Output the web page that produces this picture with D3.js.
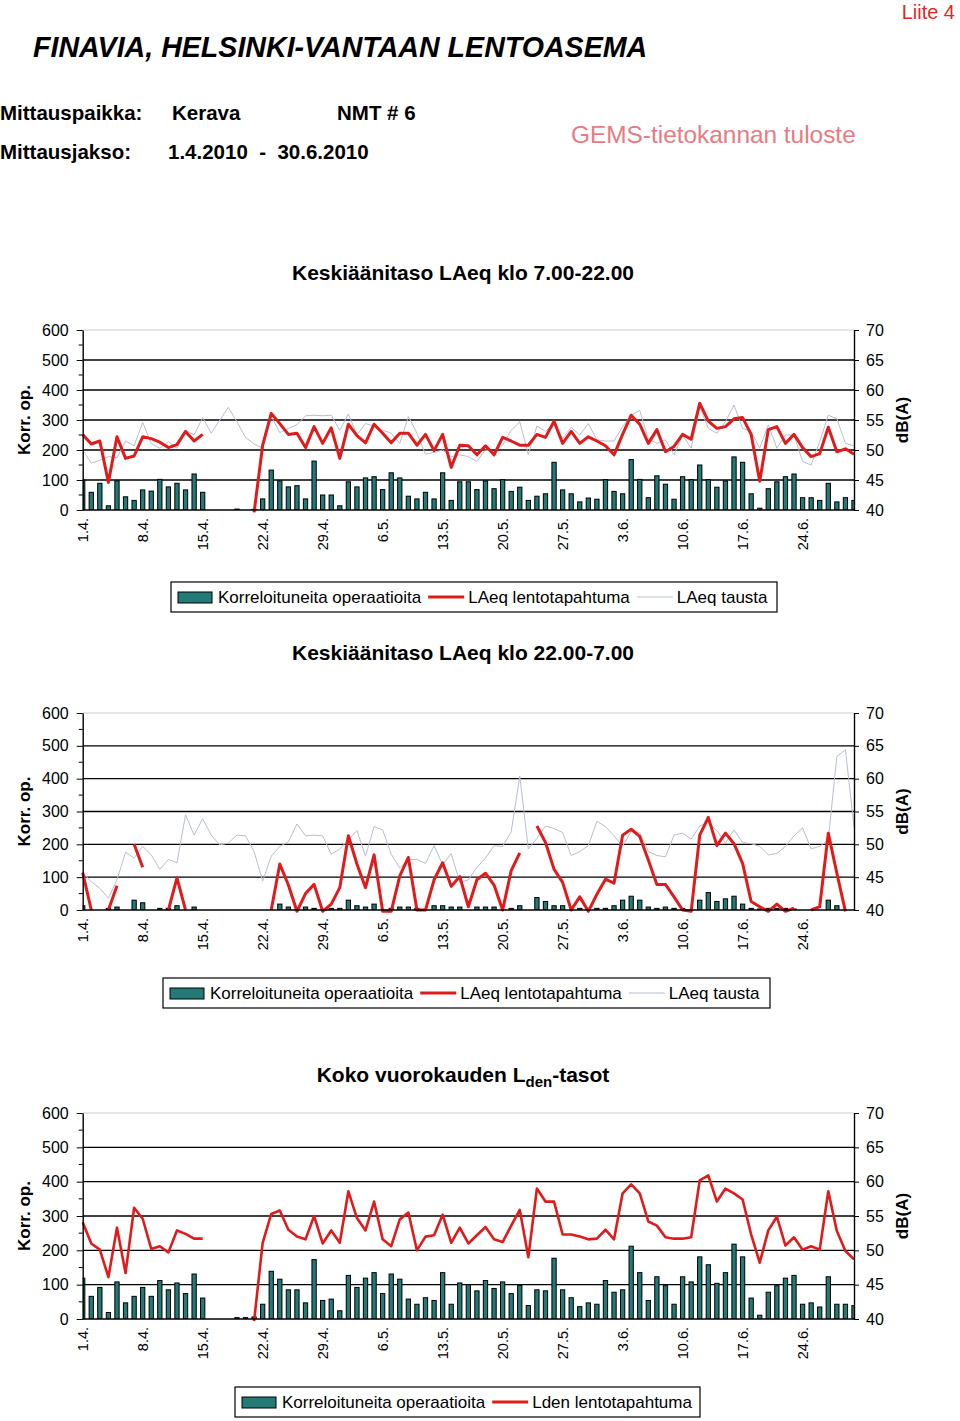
<!DOCTYPE html>
<html>
<head>
<meta charset="utf-8">
<script src="https://cdn.jsdelivr.net/npm/d3@7"></script>
<style>
  body { margin: 0; background: #fff; }
  text { font-family: "Liberation Sans", Arial, sans-serif; }
</style>
</head>
<body>
<div id="chartDiv"></div>
<script>
// ---- data ----
const months = [4, 5, 6];
const monthDays = [30, 31, 30];
const tickLabels = ["1.4.", "8.4.", "15.4.", "22.4.", "29.4.", "6.5.", "13.5.", "20.5.", "27.5.", "3.6.", "10.6.", "17.6.", "24.6."];

const opsDay = [100, 59, 89, 14, 97, 44, 32, 67, 63, 102, 77, 89, 67, 120, 59, 0, 0, 0, 3, 0,
  2, 37, 133, 97, 77, 81, 37, 163, 50, 50, 14, 94, 77, 107, 111, 68, 124, 107, 46, 37,
  59, 37, 124, 32, 94, 94, 68, 97, 71, 101, 62, 76, 32, 46, 54, 159, 67, 54, 27, 40,
  36, 101, 62, 54, 168, 102, 41, 114, 86, 36, 111, 101, 150, 101, 76, 97, 177, 159, 54, 6,
  71, 94, 111, 120, 41, 41, 32, 89, 27, 41, 32];
const laeqDay = [52.6, 51.0, 51.5, 44.6, 52.2, 48.6, 49.0, 52.2, 51.9, 51.3, 50.4, 50.9, 53.1, 51.5, 52.6,
  null, null, null, null, null,
  39.6, 50.8, 56.1, 54.4, 52.6, 52.8, 50.4, 53.9, 51.1, 53.7, 48.6, 54.3, 52.4, 51.2, 54.3,
  52.8, 51.2, 52.8, 52.8, 50.8, 52.6, 49.9, 52.6, 47.1, 50.8, 50.7, 49.2, 50.7, 49.2, 52.1,
  51.5, 50.8, 50.8, 52.6, 52.1, 54.8, 51.1, 53.1, 51.1, 52.2, 51.5, 50.7, 49.2, 52.6, 55.8,
  54.3, 51.1, 53.4, 49.7, 50.6, 52.6, 51.8, 57.8, 54.8, 53.6, 53.9, 55.2, 55.4, 52.6, 44.8,
  53.4, 53.9, 51.1, 52.6, 50.4, 48.9, 49.4, 53.8, 49.7, 50.2, 49.3];
const bgDay = [50.0, 47.8, 48.3, 48.9, 48.7, 51.5, 50.7, 54.6, 51.1, 50.3, 51.4, 50.3, 53.3, 52.5, 55.4,
  52.8, 55.0, 57.1, 54.7, 52.1, 51.0, 50.3, 55.6, 52.9, 53.6, 54.2, 55.7, 55.8, 55.7, 55.8,
  53.3, 56.0, 52.5, 54.4, 54.0, 53.3, 52.8, 51.1, 55.6, 52.8, 49.3, 49.6, 50.0, 48.9, 49.2,
  48.9, 48.1, 50.0, 49.7, 50.8, 53.3, 54.7, 49.2, 54.0, 53.1, 54.4, 51.9, 53.8, 52.5, 54.4,
  51.7, 51.5, 51.5, 53.9, 55.8, 56.6, 51.9, 51.1, 51.7, 49.2, 52.5, 50.3, 57.2, 53.6, 52.8,
  54.7, 57.5, 53.6, 53.1, 50.3, 54.2, 50.3, 52.5, 52.5, 48.1, 47.5, 51.4, 55.8, 55.2, 51.1, 50.7];

const opsNight = [13, 0, 0, 5, 9, 0, 30, 22, 0, 5, 5, 13, 0, 9, 0, 0, 0, 0, 0, 0,
  0, 0, 0, 18, 9, 2, 9, 5, 0, 5, 5, 30, 13, 9, 18, 0, 5, 9, 9, 5,
  0, 13, 13, 9, 9, 0, 9, 9, 9, 0, 5, 13, 0, 38, 26, 13, 13, 0, 5, 2,
  5, 5, 13, 30, 42, 30, 9, 5, 9, 5, 5, 0, 30, 53, 26, 34, 42, 18, 5, 3,
  5, 5, 5, 3, 0, 0, 0, 30, 13, 0, 0];
const laeqNight = [45.7, 40, null, 40, 43.7, null, 50.0, 46.5, null, null, 40, 44.9, 40, null, null,
  null, null, null, null, null,
  null, null, 40, 47.0, 43.8, 39.8, 42.5, 43.9, 39.8, 40.9, 43.4, 51.3, 47.0, 43.4, 48.4,
  39.8, 39.8, 45.2, 48.0, 40, 40, 44.6, 47.2, 43.6, 45.1, 40.5, 44.6, 45.6, 43.8, 40,
  46.0, 48.7, null, 52.8, 50.3, 46.2, 44.2, 40, 42.0, 39.8, 42.4, 44.7, 44.1, 51.4, 52.3,
  51.2, 47.6, 43.9, 43.9, 42.0, 40, 39.8, 51.4, 54.1, 49.8, 51.7, 50.1, 47.1, 41.3, 40.5,
  39.8, 40.9, 39.8, 40.3, null, 40, 40.5, 51.7, 45.6, 39.8, null];
const bgNight = [45.7, 44.3, 43.3, 41.8, 44.6, 48.8, 47.9, 49.7, 48.4, 46.2, 47.7, 47.2, 54.5, 51.4, 53.9,
  51.4, 49.9, 50.2, 51.4, 51.3, 48.9, 44.4, 48.2, 49.7, 50.4, 53.1, 51.3, 51.4, 51.3, 48.5,
  49.3, 50.7, 52.1, 48.2, 52.7, 52.2, 48.5, 46.4, 47.7, 47.7, 47.1, 49.8, 46.9, 48.6, 44.2,
  44.6, 46.5, 47.9, 49.8, 49.7, 51.9, 60.4, 49.3, 50.9, 52.8, 52.4, 51.8, 48.3, 48.9, 49.8,
  53.5, 52.7, 51.3, 49.7, 52.0, 51.8, 48.9, 48.3, 48.1, 51.4, 51.7, 50.8, 52.8, 53.3, 52.1,
  50.2, 52.2, 50.3, 50.1, 49.7, 48.4, 48.6, 49.7, 51.3, 52.5, 49.3, 49.7, 50.7, 63.4, 64.4, 52.7];

const opsAll = [119, 66, 92, 19, 108, 47, 66, 92, 66, 112, 85, 105, 74, 131, 61, 0, 0, 0, 4, 4,
  6, 43, 139, 116, 85, 85, 47, 173, 54, 58, 24, 127, 92, 119, 135, 74, 131, 116, 58, 43,
  62, 54, 135, 43, 105, 100, 82, 112, 89, 108, 74, 98, 39, 85, 82, 177, 85, 62, 36, 47,
  43, 112, 78, 85, 212, 135, 54, 123, 97, 43, 123, 108, 181, 158, 104, 135, 218, 181, 61, 11,
  78, 97, 119, 127, 43, 47, 35, 123, 43, 43, 39];
const lden = [54.1, 51.0, 50.1, 46.1, 53.3, 46.7, 56.2, 54.6, 50.2, 50.6, 49.7, 52.9, 52.4, 51.7, 51.7,
  null, null, null, null, null,
  39.7, 51.1, 55.3, 55.8, 53.0, 52.0, 51.6, 55.0, 51.0, 52.9, 51.1, 58.6, 54.7, 52.9, 57.1,
  51.6, 50.6, 54.5, 55.5, 50.0, 52.0, 52.2, 55.2, 51.1, 53.3, 51.0, 52.2, 53.4, 51.6, 51.2,
  53.6, 55.9, 49.0, 59.0, 57.1, 57.1, 52.3, 52.3, 52.0, 51.6, 51.7, 53.0, 51.6, 58.3, 59.6,
  58.3, 54.2, 53.6, 51.9, 51.7, 51.7, 51.9, 60.2, 60.9, 57.1, 59.0, 58.3, 57.4, 52.3, 48.2,
  52.9, 54.9, 50.7, 51.9, 50.1, 50.6, 50.1, 58.6, 52.8, 49.9, 48.7];

// day labels "1.4." ... "30.6."
const days = [];
months.forEach((m, k) => { for (let d = 1; d <= monthDays[k]; d++) days.push(d + "." + m + "."); });

const W = 960, H = 1421;
const svg = d3.select("#chartDiv").append("svg").attr("width", W).attr("height", H);
svg.append("rect").attr("width", W).attr("height", H).attr("fill", "#fff");

const RED = "#e01b1b", GRAY = "#b7bed0", TEAL = "#237a76";
const x = d3.scalePoint().domain(days).range([82.7, 854]);

// ---- header ----
svg.append("text").attr("x", 955).attr("y", 19).attr("text-anchor", "end")
  .attr("font-size", 20).attr("fill", "#e3262b").text("Liite 4");
svg.append("text").attr("x", 33).attr("y", 57).attr("font-size", 28.6)
  .attr("font-weight", "bold").attr("font-style", "italic").text("FINAVIA, HELSINKI-VANTAAN LENTOASEMA");
const hdr = [["Mittauspaikka:", 0, 120], ["Kerava", 172, 120], ["NMT # 6", 337, 120],
             ["Mittausjakso:", 0, 159], ["1.4.2010  -  30.6.2010", 168, 159]];
hdr.forEach(h => svg.append("text").attr("x", h[1]).attr("y", h[2]).attr("font-size", 20.5)
  .attr("font-weight", "bold").style("white-space", "pre").text(h[0]));
svg.append("text").attr("x", 571).attr("y", 143).attr("font-size", 24.4)
  .attr("fill", "#e77b82").text("GEMS-tietokannan tuloste");

function drawPanel(cfg, idx) {
  const top = cfg.top, bottom = cfg.bottom;
  const x0 = x.range()[0], x1 = x.range()[1];
  const yL = d3.scaleLinear().domain([0, 600]).range([bottom, top]);
  const yR = d3.scaleLinear().domain([40, 70]).range([bottom, top]);
  const g = svg.append("g");

  // title
  const t = g.append("text").attr("x", 463).attr("y", cfg.titleY).attr("text-anchor", "middle")
    .attr("font-size", 21).attr("font-weight", "bold");
  cfg.title.forEach(p => {
    const ts = t.append("tspan").text(p.t);
    if (p.sub) ts.attr("font-size", 15).attr("dy", 5);
    else if (p.after) ts.attr("dy", -5);
  });

  // grid
  g.append("line").attr("x1", x0).attr("x2", x1).attr("y1", yL(600)).attr("y2", yL(600))
    .attr("stroke", "#dcdcdc").attr("stroke-width", 1.5);
  d3.range(100, 600, 100).forEach(v => g.append("line").attr("x1", x0).attr("x2", x1)
    .attr("y1", yL(v)).attr("y2", yL(v)).attr("stroke", "#000").attr("stroke-width", 1.4));

  // bars
  const clipId = "clip" + idx;
  svg.append("clipPath").attr("id", clipId).append("rect")
    .attr("x", x0).attr("y", top).attr("width", x1 - x0).attr("height", bottom - top);
  const bw = x.step() * 0.5;
  g.append("g").attr("clip-path", `url(#${clipId})`).selectAll("rect")
    .data(cfg.bars.map((v, i) => ({ d: days[i], v })).filter(o => o.v > 0))
    .join("rect")
    .attr("x", o => x(o.d) - bw / 2).attr("width", bw)
    .attr("y", o => yL(o.v)).attr("height", o => bottom - yL(o.v))
    .attr("fill", TEAL).attr("stroke", "#000").attr("stroke-width", 1);

  // lines
  cfg.lines.forEach(L => {
    const line = d3.line().defined(v => v != null).x((v, i) => x(days[i])).y(v => yR(v));
    g.append("path").attr("d", line(L.data)).attr("fill", "none")
      .attr("stroke", L.color).attr("stroke-width", L.width).attr("stroke-linejoin", "round");
  });

  // axes
  const axL = g.append("g").attr("transform", `translate(${x0},0)`)
    .call(d3.axisLeft(yL).tickValues(d3.range(0, 601, 100)).tickSize(6).tickSizeOuter(0).tickPadding(8));
  d3.range(50, 600, 100).forEach(v => axL.append("line").attr("x1", -4).attr("x2", 0)
    .attr("y1", yL(v)).attr("y2", yL(v)).attr("stroke", "#000"));
  const axR = g.append("g").attr("transform", `translate(${x1},0)`)
    .call(d3.axisRight(yR).tickValues(d3.range(40, 71, 5)).tickSize(5).tickSizeOuter(0).tickPadding(7));
  [axL, axR].forEach(a => {
    a.select(".domain").attr("stroke-width", 1.4);
    a.selectAll("text").attr("font-size", 16).attr("font-family", '"Liberation Sans", Arial, sans-serif');
  });
  g.append("line").attr("x1", x0).attr("x2", x1).attr("y1", bottom).attr("y2", bottom)
    .attr("stroke", "#000").attr("stroke-width", 1.4);

  // x labels
  g.selectAll(".xl").data(tickLabels).join("text")
    .attr("transform", d => `translate(${x(d)},${bottom + 8}) rotate(-90)`)
    .attr("dy", "0.35em").attr("text-anchor", "end").attr("font-size", 14.5).text(d => d);

  // axis titles
  const cy = (top + bottom) / 2;
  g.append("text").attr("transform", `translate(30,${cy}) rotate(-90)`).attr("text-anchor", "middle")
    .attr("font-size", 17).attr("font-weight", "bold").text("Korr. op.");
  g.append("text").attr("transform", `translate(908,${cy}) rotate(-90)`).attr("text-anchor", "middle")
    .attr("font-size", 17).attr("font-weight", "bold").text("dB(A)");

  // legend
  const lg = cfg.legend;
  g.append("rect").attr("x", lg.x).attr("y", lg.y).attr("width", lg.w).attr("height", 30)
    .attr("fill", "#fff").attr("stroke", "#000").attr("stroke-width", 1.2);
  let cx = lg.x + 7;
  const my = lg.y + 15;
  lg.items.forEach(it => {
    if (it.type === "bar") {
      g.append("rect").attr("x", cx).attr("y", my - 5).attr("width", 34).attr("height", 11)
        .attr("fill", TEAL).attr("stroke", "#000");
    } else {
      g.append("line").attr("x1", cx).attr("x2", cx + 36).attr("y1", my).attr("y2", my)
        .attr("stroke", it.color).attr("stroke-width", it.width);
    }
    const tx = g.append("text").attr("x", cx + 40).attr("y", my + 6).attr("font-size", 17).text(it.label);
    cx += 40 + tx.node().getComputedTextLength() + 7;
  });
}

const legBar = { type: "bar", label: "Korreloituneita operaatioita" };
drawPanel({
  top: 330, bottom: 510, titleY: 280,
  title: [{ t: "Keskiäänitaso LAeq klo 7.00-22.00" }],
  bars: opsDay,
  lines: [{ data: bgDay, color: GRAY, width: 1 }, { data: laeqDay, color: RED, width: 3 }],
  legend: { x: 171, y: 582, w: 606, items: [legBar,
    { label: "LAeq lentotapahtuma", color: RED, width: 3 },
    { label: "LAeq tausta", color: GRAY, width: 1 }] }
}, 1);
drawPanel({
  top: 713, bottom: 910, titleY: 660,
  title: [{ t: "Keskiäänitaso LAeq klo 22.00-7.00" }],
  bars: opsNight,
  lines: [{ data: bgNight, color: GRAY, width: 1 }, { data: laeqNight, color: RED, width: 3 }],
  legend: { x: 163, y: 978, w: 607, items: [legBar,
    { label: "LAeq lentotapahtuma", color: RED, width: 3 },
    { label: "LAeq tausta", color: GRAY, width: 1 }] }
}, 2);
drawPanel({
  top: 1113, bottom: 1319, titleY: 1082,
  title: [{ t: "Koko vuorokauden L" }, { t: "den", sub: true }, { t: "-tasot", after: true }],
  bars: opsAll,
  lines: [{ data: lden, color: RED, width: 2.6 }],
  legend: { x: 235, y: 1387, w: 465, items: [legBar,
    { label: "Lden lentotapahtuma", color: RED, width: 3 }] }
}, 3);
</script>
</body>
</html>
